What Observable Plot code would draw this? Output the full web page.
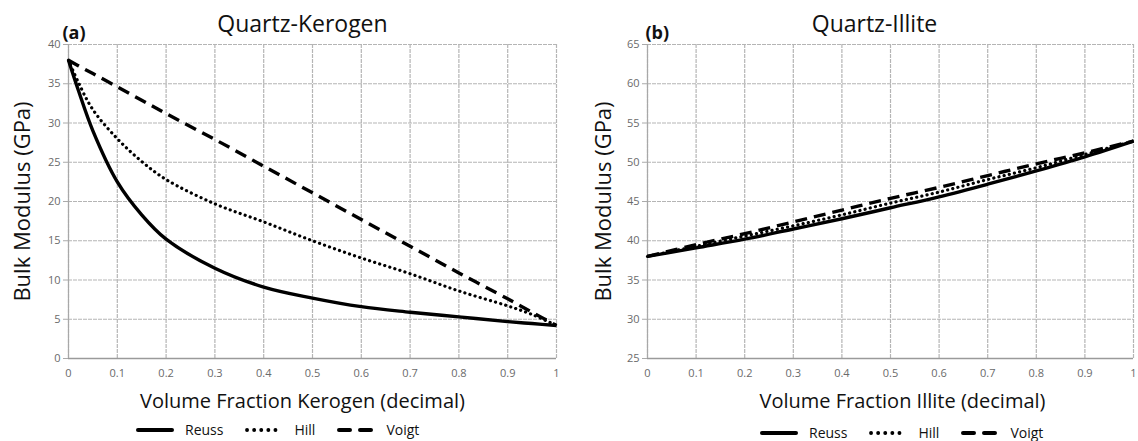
<!DOCTYPE html>
<html>
<head>
<meta charset="utf-8">
<script src="https://cdn.jsdelivr.net/npm/d3@7"></script>
<script src="https://cdn.jsdelivr.net/npm/@observablehq/plot@0.6"></script>
<style>
  html, body { margin: 0; padding: 0; background: #fff; }
  #wrap { position: relative; width: 1138px; height: 441px; overflow: hidden; font-family: "Open Sans", sans-serif; }
  .panel { position: absolute; top: 0; }
  .legend { position: absolute; display: flex; align-items: center; font-size: 14px; color: #111; }
  .legend svg { display: block; }
  .legend .lab { margin-left: 11px; margin-right: 22px; }
</style>
</head>
<body>
<div id="wrap"></div>
<script>
// ---- Data ----
const seriesNames = ["Reuss", "Hill", "Voigt"];

// Panel (a): Quartz-Kerogen
const fracA  = [0, 0.02, 0.05, 0.1, 0.15, 0.2, 0.3, 0.4, 0.5, 0.6, 0.7, 0.8, 0.9, 0.95, 1];
const reussA = [38, 34.2, 29.0, 22.5, 18.3, 15.2, 11.5, 9.1, 7.7, 6.6, 5.9, 5.3, 4.7, 4.45, 4.2];
const hillA  = [38, 35.2, 31.7, 28.0, 25.1, 22.8, 19.7, 17.4, 15.0, 12.8, 10.8, 8.6, 6.7, 5.6, 4.2];
const voigtA = [38, 37.3, 36.3, 34.6, 32.9, 31.2, 27.9, 24.5, 21.1, 17.7, 14.3, 10.9, 7.6, 5.9, 4.2];

// Panel (b): Quartz-Illite
const fracB  = [0, 0.1, 0.2, 0.3, 0.4, 0.5, 0.6, 0.7, 0.8, 0.9, 1];
const reussB = [38, 39.1, 40.2, 41.5, 42.8, 44.2, 45.6, 47.2, 48.9, 50.7, 52.7];
const hillB  = [38, 39.3, 40.6, 41.9, 43.3, 44.8, 46.2, 47.8, 49.3, 51.0, 52.7];
const voigtB = [38, 39.5, 40.9, 42.4, 43.9, 45.4, 46.8, 48.3, 49.8, 51.2, 52.7];

const xTicks = [0, 0.1, 0.2, 0.3, 0.4, 0.5, 0.6, 0.7, 0.8, 0.9, 1];
const xTickLabels = ["0", "0.1", "0.2", "0.3", "0.4", "0.5", "0.6", "0.7", "0.8", "0.9", "1"];
const yTicksA = [0, 5, 10, 15, 20, 25, 30, 35, 40];
const yTicksB = [25, 30, 35, 40, 45, 50, 55, 60, 65];

const titles = ["Quartz-Kerogen", "Quartz-Illite"];
const tags = ["(a)", "(b)"];
const xLabels = ["Volume Fraction Kerogen (decimal)", "Volume Fraction Illite (decimal)"];
const yLabel = "Bulk Modulus (GPa)";

// ---- Build ----
const styles = {
  Reuss: { strokeWidth: 3.4, strokeDasharray: null, strokeLinecap: "butt" },
  Hill:  { strokeWidth: 3.2, strokeDasharray: "0.1,5.2", strokeLinecap: "round" },
  Voigt: { strokeWidth: 3.4, strokeDasharray: "12,7", strokeLinecap: "butt" }
};

function rows(frac, arrays) {
  const out = [];
  seriesNames.forEach((s, k) => frac.forEach((f, i) => out.push({ series: s, f, v: arrays[k][i] })));
  return out;
}

function panel(opts) {
  const data = rows(opts.frac, opts.series);
  const lineMarks = seriesNames.map(s => Plot.line(data.filter(d => d.series === s), {
    x: "f", y: "v", stroke: "#000", curve: "catmull-rom",
    strokeWidth: styles[s].strokeWidth,
    strokeDasharray: styles[s].strokeDasharray,
    strokeLinecap: styles[s].strokeLinecap
  }));
  return Plot.plot({
    width: opts.width, height: 415,
    marginLeft: opts.ml, marginRight: opts.mr, marginTop: 44, marginBottom: 57,
    style: { fontFamily: "Open Sans, sans-serif", background: "transparent", overflow: "visible" },
    x: { domain: [0, 1] },
    y: { domain: opts.ydomain },
    marks: [
      Plot.gridX(xTicks, { stroke: "#b5b5b5", strokeOpacity: 1, strokeWidth: 1.2, strokeDasharray: "4,1" }),
      Plot.gridY(opts.yticks, { stroke: "#b5b5b5", strokeOpacity: 1, strokeWidth: 1.2, strokeDasharray: "4,1" }),
      Plot.ruleY([opts.ydomain[0]], { stroke: "#9a9a9a", strokeWidth: 1.5 }),
      Plot.ruleX([0], { stroke: "#a8a8a8", strokeWidth: 1.2 }),
      Plot.axisX(xTicks, { tickSize: 0, tickPadding: 11, fontSize: 11, fill: "#6a6a6a",
        tickFormat: (d, i) => xTickLabels[i], label: null }),
      Plot.axisY(opts.yticks, { tickSize: 5, tickPadding: 3, fontSize: 11, fill: "#6a6a6a", stroke: "#aaa",
        label: null }),
      ...lineMarks,
      Plot.text([opts.title], { frameAnchor: "top", lineAnchor: "middle", dx: opts.titleDx, dy: -20, fontSize: 23, fill: "#111" }),
      Plot.text([opts.tag], { frameAnchor: "top-left", lineAnchor: "middle", dx: opts.tagDx, dy: -11, fontSize: 18,
        fontWeight: "bold", textAnchor: "start", fill: "#111" }),
      Plot.text([opts.xlabel], { frameAnchor: "bottom", lineAnchor: "middle", dx: opts.xlabDx, dy: 43, fontSize: 20, fill: "#111" }),
      Plot.text([yLabel], { frameAnchor: "left", lineAnchor: "middle", textAnchor: "middle",
        dx: opts.ylabDx, rotate: -90, fontSize: 22, fill: "#111" })
    ]
  });
}

const wrap = document.getElementById("wrap");

const pa = panel({ width: 569, ml: 68, mr: 13, frac: fracA, series: [reussA, hillA, voigtA],
  ydomain: [0, 40], yticks: yTicksA, title: titles[0], titleDx: -10, tag: tags[0], tagDx: -6,
  xlabel: xLabels[0], xlabDx: -10, ylabDx: -46 });
pa.classList.add("panel"); pa.style.left = "0px";
wrap.appendChild(pa);

const pb = panel({ width: 569, ml: 78, mr: 5, frac: fracB, series: [reussB, hillB, voigtB],
  ydomain: [25, 65], yticks: yTicksB, title: titles[1], titleDx: -16, tag: tags[1], tagDx: -2,
  xlabel: xLabels[1], xlabDx: 12, ylabDx: -44 });
pb.classList.add("panel"); pb.style.left = "569px";
wrap.appendChild(pb);

function legend(left, top) {
  const div = document.createElement("div");
  div.className = "legend";
  div.style.left = left + "px";
  div.style.top = top + "px";
  seriesNames.forEach(s => {
    const svg = d3.create("svg").attr("width", 38).attr("height", 10);
    svg.append("line").attr("x1", 2).attr("x2", 36).attr("y1", 5).attr("y2", 5)
      .attr("stroke", "#000").attr("stroke-width", styles[s].strokeWidth + 0.6)
      .attr("stroke-linecap", "round")
      .attr("stroke-dasharray", s === "Hill" ? "0.1,7" : s === "Voigt" ? "11,10" : null);
    div.appendChild(svg.node());
    const lab = document.createElement("span");
    lab.className = "lab";
    lab.textContent = s;
    div.appendChild(lab);
  });
  wrap.appendChild(div);
}
legend(136, 420);
legend(760, 423);
</script>
</body>
</html>
